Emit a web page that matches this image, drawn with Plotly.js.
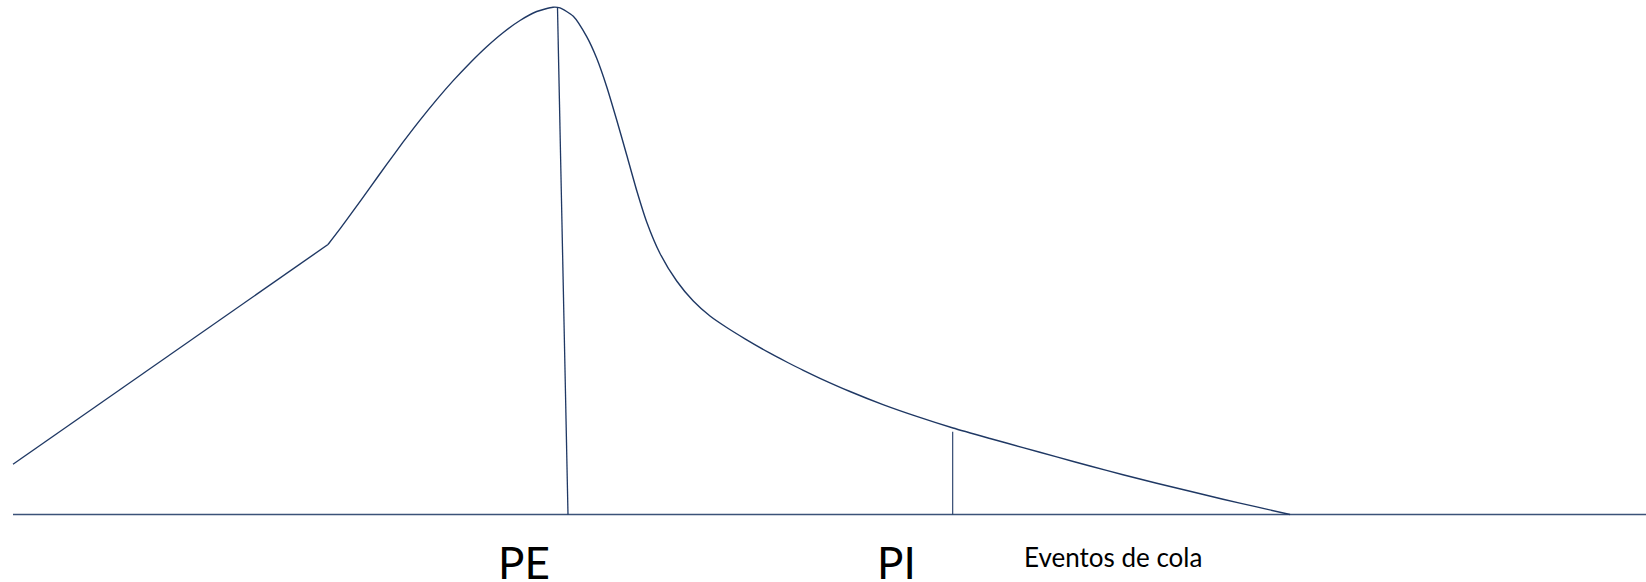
<!DOCTYPE html>
<html>
<head>
<meta charset="utf-8">
<script src="https://cdn.plot.ly/plotly-3.0.1.min.js"></script>
<style>html,body{margin:0;padding:0;background:#fff;}#chart{width:1646px;height:582px;}</style>
</head>
<body>
<div id="chart"></div>
<script>
// Straight left flank of the distribution (x position, height above baseline)
const flankX = [13, 328];
const flankY = [50.2, 270];
// Curved body and right tail of the distribution
const curveX = [328, 340, 353, 370, 386.7, 403, 420, 436.7, 453, 470, 486.7, 503, 520, 536.7, 553, 560, 573.3, 586.7, 596.7, 606.7, 616.7, 626.7, 636.7, 646.7, 660, 676.7, 693.3, 710, 726.7, 745, 770, 786.7, 803.3, 820, 850, 883, 916.7, 953, 990, 1023, 1056.7, 1090, 1123, 1156.7, 1190, 1223, 1256.7, 1290];
const curveY = [270, 285.6, 303.3, 326.9, 350.1, 372.3, 394.4, 414.9, 433.6, 451.6, 467.8, 481.8, 494, 503, 507.3, 506.6, 498.2, 477.8, 456.2, 427.8, 394.5, 359.5, 324, 292.5, 261, 233.5, 213.5, 198.5, 187, 175.7, 161.3, 152.5, 144.1, 136.2, 123, 109.9, 98.1, 86.5, 76, 66.9, 57.6, 48.5, 39.8, 31.3, 23.2, 15.3, 7.6, 0];
// Baseline
const baseX = [13, 1646];
const baseY = [0, 0];
// PE marker line (slightly slanted) and PI marker line
const peX = [557.5, 568];
const peY = [506.5, 0];
const piX = [952.7, 952.7];
const piY = [82.8, 0];
// Labels
const labelText = ["PE", "PI", "Eventos de cola"];
const labelX = [524, 896, 1113];
const labelY = [-47, -47, -42.5];
const labelSize = [44, 44, 26];

const navy = '#1f3864';
const traces = [
  {x: baseX, y: baseY, mode: 'lines', line: {color: '#3b5278', width: 1.6}, hoverinfo: 'skip'},
  {x: flankX, y: flankY, mode: 'lines', line: {color: navy, width: 1.4}, hoverinfo: 'skip'},
  {x: curveX, y: curveY, mode: 'lines', line: {color: navy, width: 1.4, shape: 'spline', smoothing: 0.6}, hoverinfo: 'skip'},
  {x: peX, y: peY, mode: 'lines', line: {color: navy, width: 1.3}, hoverinfo: 'skip'},
  {x: piX, y: piY, mode: 'lines', line: {color: navy, width: 1.1}, hoverinfo: 'skip'}
];
const annotations = labelText.map((t, i) => ({
  text: t, x: labelX[i], y: labelY[i], xref: 'x', yref: 'y',
  xanchor: 'center', yanchor: 'middle', showarrow: false,
  font: {family: 'Lato, Carlito, sans-serif', size: labelSize[i], color: '#000'}
}));
const layout = {
  width: 1646, height: 582,
  margin: {l: 0, r: 0, t: 0, b: 0},
  paper_bgcolor: '#fff', plot_bgcolor: '#fff',
  showlegend: false,
  xaxis: {range: [0, 1646], visible: false, fixedrange: true},
  yaxis: {range: [-67.5, 514.5], visible: false, fixedrange: true},
  annotations: annotations
};
Plotly.newPlot('chart', traces, layout, {displayModeBar: false, staticPlot: true});
</script>
</body>
</html>
